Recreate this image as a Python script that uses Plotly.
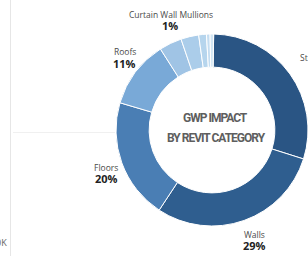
import plotly.graph_objects as go

# ---- data ----
categories = ["Structural", "Walls", "Floors", "Roofs", "Stairs", "Ceilings",
              "Curtain Panels", "Curtain Wall Mullions", "Railings"]
values = [29.6, 29.4, 20.3, 11.4, 3.8, 3.0, 1.3, 0.6, 0.6]
colors = ["#2a5584", "#2f5e8f", "#4a7eb4", "#79a9d7", "#a0c4e5",
          "#abcdea", "#b6d5ed", "#c4ddf1", "#d2e6f4"]

# labels shown: name, percent text, name position (px), percent position (px)
label_names = ["Structural", "Walls", "Floors", "Roofs", "Curtain Wall Mullions"]
label_pcts = ["30%", "29%", "20%", "11%", "1%"]
name_px = [(320, 57), (254, 234), (106, 167), (125, 51), (171, 14)]
pct_px = [(320, 68), (254, 245), (106, 178), (124, 63), (170, 25)]

center_title = ["GWP IMPACT", "BY REVIT CATEGORY"]

W, H = 308, 256


def px(x):
    return x / W


def py(y):
    return 1 - y / H


fig = go.Figure()
fig.add_trace(go.Pie(
    labels=categories,
    values=values,
    sort=False,
    direction="clockwise",
    rotation=1,
    hole=0.655,
    marker=dict(colors=colors, line=dict(color="white", width=1)),
    textinfo="none",
    hoverinfo="label+percent",
    domain=dict(x=[116 / W, 1.0], y=[py(227), py(33)]),
    showlegend=False,
))

annotations = []
for name, pct, (nx, ny), (qx, qy) in zip(label_names, label_pcts, name_px, pct_px):
    annotations.append(dict(
        x=px(nx), y=py(ny), xref="paper", yref="paper", text=name,
        showarrow=False, xanchor="center", yanchor="middle",
        font=dict(family="Open Sans", size=8.5, color="#4a4a4a"),
    ))
    annotations.append(dict(
        x=px(qx), y=py(qy), xref="paper", yref="paper", text=f"<b>{pct}</b>",
        showarrow=False, xanchor="center", yanchor="middle",
        font=dict(family="Open Sans", size=11, color="#222"),
    ))

title_font = dict(family="Roboto, sans-serif", size=12, color="#5e5e5e")
annotations.append(dict(
    x=px(215), y=py(118), xref="paper", yref="paper",
    text=f"<b><span style='letter-spacing:-1px'>{center_title[0]}</span></b>",
    showarrow=False, xanchor="center", yanchor="middle", font=title_font,
))
annotations.append(dict(
    x=px(216), y=py(138), xref="paper", yref="paper",
    text=f"<b><span style='letter-spacing:-1px'>{center_title[1]}</span></b>",
    showarrow=False, xanchor="center", yanchor="middle", font=title_font,
))
annotations.append(dict(
    x=px(9), y=py(242), xref="paper", yref="paper", text="0K",
    showarrow=False, xanchor="right", yanchor="middle",
    font=dict(family="Open Sans", size=9, color="#666"),
))

shapes = [
    dict(type="line", xref="paper", yref="paper", x0=px(10.5), x1=px(10.5),
         y0=0, y1=1, line=dict(color="#e6e6e6", width=1)),
    dict(type="line", xref="paper", yref="paper", x0=px(13), x1=px(115),
         y0=py(132.5), y1=py(132.5), line=dict(color="#f0f0f0", width=1)),
]

fig.update_layout(
    width=W, height=H,
    margin=dict(l=0, r=0, t=0, b=0),
    paper_bgcolor="white",
    plot_bgcolor="white",
    annotations=annotations,
    shapes=shapes,
)

fig.write_html("out.html", config={"displayModeBar": False},
               post_script="document.body.style.margin='0';")
